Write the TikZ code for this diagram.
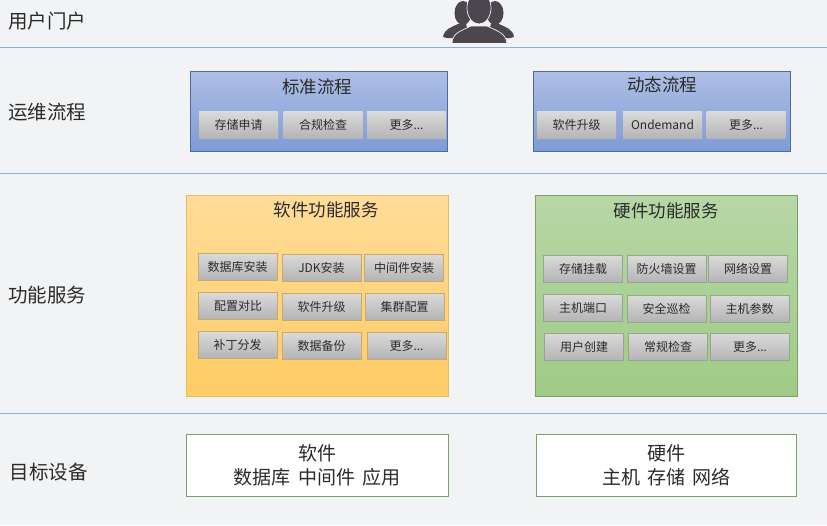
\documentclass[tikz,border=0pt]{standalone}
\usepackage{fontspec}
\setmainfont{Noto Sans CJK SC}
\usepackage{tikz}

\definecolor{bgcol}{HTML}{F2F3F5}
\definecolor{rulecol}{HTML}{8FAEDB}
\definecolor{iconcol}{HTML}{4C464F}
\definecolor{inkcol}{HTML}{2B2B2B}
\definecolor{btntop}{HTML}{DADADA}
\definecolor{btnbot}{HTML}{B4B4B6}
\definecolor{bluetop}{HTML}{AEBFE4}
\definecolor{bluebot}{HTML}{7F9BD6}
\definecolor{blueline}{HTML}{4F6A9E}
\definecolor{orangetop}{HTML}{FFDC98}
\definecolor{orangebot}{HTML}{FFCC66}
\definecolor{orangeline}{HTML}{E4BE63}
\definecolor{greentop}{HTML}{B7D7A6}
\definecolor{greenbot}{HTML}{9FCB86}
\definecolor{greenline}{HTML}{7E9E6C}

\tikzset{
    rowlabel/.style={font=\fontsize{19.5}{23}\selectfont, text=inkcol, inner sep=0pt},
    paneltitle/.style={font=\fontsize{17.5}{22}\selectfont, text=inkcol, inner sep=0pt},
    btn/.style={font=\fontsize{12}{14}\selectfont, text=inkcol, inner sep=0pt, minimum width=79pt, minimum height=27pt, top color=btntop, bottom color=btnbot},
    bluepanel/.style={draw=blueline, line width=0.8pt, top color=bluetop, bottom color=bluebot, inner sep=0pt},
    orangepanel/.style={draw=orangeline, line width=0.8pt, top color=orangetop, bottom color=orangebot, inner sep=0pt},
    greenpanel/.style={draw=greenline, line width=0.8pt, top color=greentop, bottom color=greenbot, inner sep=0pt},
    whitepanel/.style={draw=greenline, line width=0.8pt, fill=white, inner sep=0pt, font=\fontsize{19}{24}\selectfont, text=inkcol, align=center},
    orangebtn/.style={btn, draw=orangeline!70!gray, line width=0.6pt},
    greenbtn/.style={btn, draw=greenline!50!gray!80, line width=0.6pt},
}
\newcommand{\wordgap}{\hspace{7.5pt}}

\begin{document}
\begin{tikzpicture}[x=1pt,y=-1pt]
    % Page background
    \coordinate (pagetl) at (0,0);
    \coordinate (pagebr) at (827,525);
    \fill[bgcol] (pagetl) rectangle (pagebr);
    \useasboundingbox (pagetl) rectangle (pagebr);

    % Separators between the rows
    \coordinate (rule1a) at (0,47);
    \coordinate (rule1b) at (827,47);
    \coordinate (rule2a) at (0,173);
    \coordinate (rule2b) at (827,173);
    \coordinate (rule3a) at (0,413);
    \coordinate (rule3b) at (827,413);
    \draw[rulecol, line width=1pt] (rule1a) -- (rule1b);
    \draw[rulecol, line width=1pt] (rule2a) -- (rule2b);
    \draw[rulecol, line width=1pt] (rule3a) -- (rule3b);

    % Row labels
    \node[rowlabel] (portal) at (47.5,21) {用户门户};
    \node[rowlabel] (flow) at (47.5,112) {运维流程};
    \node[rowlabel] (func) at (47.5,295) {功能服务};
    \node[rowlabel] (target) at (48.5,472) {目标设备};

    % Users icon
    \fill[iconcol] (463,13) ellipse (8.5pt and 12pt);
    \fill[iconcol] (495,13) ellipse (8.5pt and 12pt);
    \fill[iconcol] (443,37) .. controls (444,29) and (452,27) .. (458,24) -- (466,24) -- (470,38) -- (447,38) -- cycle;
    \fill[iconcol] (514,37) .. controls (513,29) and (505,27) .. (499,24) -- (491,24) -- (487,38) -- (510,38) -- cycle;
    \fill[iconcol, draw=bgcol, line width=0.7pt] (479,8) ellipse (12pt and 16pt);
    \fill[iconcol, draw=bgcol, line width=0.7pt] (452,43.5) .. controls (452,33) and (461,31) .. (471,26) -- (487,26) .. controls (497,31) and (506,33) .. (507,43.5) -- cycle;

    % Process panels
    \node[bluepanel, minimum width=257.5pt, minimum height=80pt] (stdpanel) at (319,111) {};
    \node[bluepanel, minimum width=257.5pt, minimum height=80pt] (dynpanel) at (661.8,111) {};
    \node[paneltitle] (stdtitle) at (317,87) {标准流程};
    \node[paneltitle] (dyntitle) at (662,85) {动态流程};
    \node[btn] (s1) at (238.5,125) {存储申请};
    \node[btn] (s2) at (323,125) {合规检查};
    \node[btn] (s3) at (406.5,125) {更多...};
    \node[btn] (d1) at (576.5,125) {软件升级};
    \node[btn] (d2) at (662.5,125) {Ondemand};
    \node[btn] (d3) at (746,125) {更多...};

    % Software services
    \node[orangepanel, minimum width=262.5pt, minimum height=201pt] (swpanel) at (317.4,295.5) {};
    \node[paneltitle] (swtitle) at (326,210) {软件功能服务};
    \node[orangebtn] (a1) at (237.5,267) {数据库安装};
    \node[orangebtn] (a2) at (321.5,267.5) {JDK安装};
    \node[orangebtn] (a3) at (404,267.5) {中间件安装};
    \node[orangebtn] (a4) at (238,306) {配置对比};
    \node[orangebtn] (a5) at (321.5,306.5) {软件升级};
    \node[orangebtn] (a6) at (404.5,306.5) {集群配置};
    \node[orangebtn] (a7) at (237.5,345) {补丁分发};
    \node[orangebtn] (a8) at (321.5,345.5) {数据备份};
    \node[orangebtn] (a9) at (406.5,345.5) {更多...};

    % Hardware services
    \node[greenpanel, minimum width=262.5pt, minimum height=201pt] (hwpanel) at (666.4,295.5) {};
    \node[paneltitle] (hwtitle) at (666,211) {硬件功能服务};
    \node[greenbtn] (b1) at (583,268.5) {存储挂载};
    \node[greenbtn] (b2) at (666.5,269) {防火墙设置};
    \node[greenbtn] (b3) at (748,269) {网络设置};
    \node[greenbtn] (b4) at (583,308) {主机端口};
    \node[greenbtn] (b5) at (666.5,308.5) {安全巡检};
    \node[greenbtn] (b6) at (749.5,308.5) {主机参数};
    \node[greenbtn] (b7) at (584,347) {用户创建};
    \node[greenbtn] (b8) at (668,347) {常规检查};
    \node[greenbtn] (b9) at (750,347) {更多...};

    % Target devices
    \node[whitepanel, minimum width=262.5pt, minimum height=62pt] (swbox) at (317.4,465) {软件\\数据库\wordgap 中间件\wordgap 应用};
    \node[whitepanel, minimum width=260.5pt, minimum height=62.5pt] (hwbox) at (666.5,465.5) {硬件\\主机\wordgap 存储\wordgap 网络};
\end{tikzpicture}
\end{document}
